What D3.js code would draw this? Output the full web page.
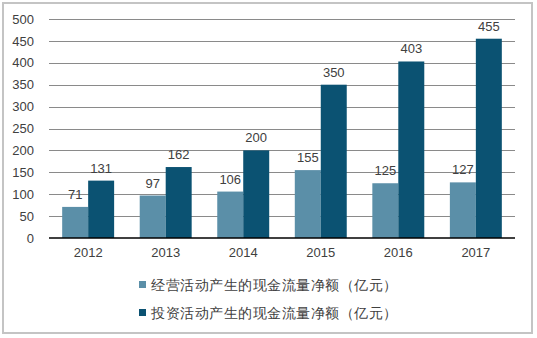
<!DOCTYPE html>
<html><head><meta charset="utf-8">
<script src="https://cdn.jsdelivr.net/npm/d3@7/dist/d3.min.js"></script>
<style>
html,body{margin:0;padding:0;background:#fff;}
text{font-family:"Liberation Sans",Arial,sans-serif;}
</style></head>
<body><svg id="c" width="537" height="338"></svg>
<script>
const years = ["2012","2013","2014","2015","2016","2017"];
const operating = [71, 97, 106, 155, 125, 127];
const investing = [131, 162, 200, 350, 403, 455];
const seriesNames = ["经营活动产生的现金流量净额（亿元）","投资活动产生的现金流量净额（亿元）"];
const yTicks = [0,50,100,150,200,250,300,350,400,450,500];
const colors = ["#5b8fa8","#0b5272"];

const svg = d3.select("#c");
svg.append("rect").attr("x",3).attr("y",3).attr("width",529).attr("height",330)
  .attr("fill","#fff").attr("stroke","#c4c4c4").attr("stroke-width",2);

const L=49, R=515, T=19, B=238;
const x = d3.scaleBand().domain(years).range([L,R]).paddingInner(0.33).paddingOuter(0.17);
const xs = d3.scaleBand().domain([0,1]).range([0,x.bandwidth()]);
const y = d3.scaleLinear().domain([0,500]).range([B,T]);

// grid
svg.append("g").selectAll("line").data(yTicks.filter(d=>d>0)).join("line")
  .attr("x1",L).attr("x2",R).attr("y1",d=>Math.round(y(d))+0.5).attr("y2",d=>Math.round(y(d))+0.5)
  .attr("stroke","#8a8a8a").attr("stroke-width",1);

// y axis labels
const ya = svg.append("g").attr("transform",`translate(${L},0)`)
  .call(d3.axisLeft(y).tickValues(yTicks).tickSize(0).tickPadding(15));
ya.select(".domain").remove();
ya.selectAll("text").attr("font-size",13).attr("fill","#404040").attr("font-family","Liberation Sans, Arial, sans-serif");

const data = years.map((yr,i)=>({yr, vals:[operating[i],investing[i]]}));
const g = svg.append("g");
const grp = g.selectAll("g").data(data).join("g").attr("transform",d=>`translate(${x(d.yr)},0)`);
grp.selectAll("rect").data(d=>d.vals.map((v,k)=>({v,k}))).join("rect")
  .attr("x",d=>xs(d.k)).attr("width",xs.bandwidth())
  .attr("y",d=>y(d.v)).attr("height",d=>B-y(d.v)).attr("fill",d=>colors[d.k]);
grp.selectAll("text").data(d=>d.vals.map((v,k)=>({v,k}))).join("text")
  .attr("x",d=>xs(d.k)+xs.bandwidth()/2).attr("y",d=>y(d.v)-8)
  .attr("text-anchor","middle").attr("font-size",13).attr("fill","#404040").text(d=>d.v);

// x axis
const xa = svg.append("g").attr("transform",`translate(0,${B})`)
  .call(d3.axisBottom(x).tickSize(0).tickPadding(10));
xa.select(".domain").attr("stroke","#000").attr("stroke-width",1.5).attr("d",`M${L},0H${R}`);
xa.selectAll("text").attr("font-size",13).attr("fill","#404040").attr("font-family","Liberation Sans, Arial, sans-serif");

// legend
const lg = svg.append("g").selectAll("g").data(seriesNames).join("g")
  .attr("transform",(d,i)=>`translate(139,${281+i*28})`);
lg.append("rect").attr("width",7).attr("height",7).attr("fill",(d,i)=>colors[i]);
lg.append("text").attr("x",12).attr("y",4).attr("dy","0.35em").attr("font-size",14)
  .attr("letter-spacing","0.5px")
  .attr("fill","#404040").attr("font-family","Noto Sans CJK SC, sans-serif").text(d=>d);
</script></body></html>
